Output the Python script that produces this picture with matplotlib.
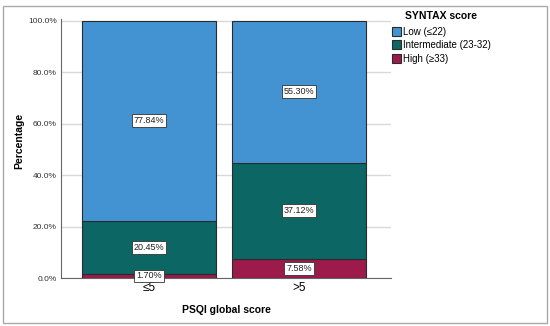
import matplotlib

matplotlib.use("Agg")
import matplotlib.pyplot as plt
from matplotlib.patches import Patch, Rectangle

plt.rcParams["font.family"] = ["Liberation Sans", "DejaVu Sans"]

# data
groups = ["\u22645", ">5"]
low = [77.84, 55.30]
intermediate = [20.45, 37.12]
high = [1.70, 7.58]
series_names = ["Low (\u226422)", "Intermediate (23-32)", "High (\u226533)"]
y_ticks = [0, 20, 40, 60, 80, 100]

COLORS = ["#4393d3", "#0b6664", "#9c1b4b"]

fig = plt.figure(figsize=(5.5, 3.26), dpi=100)
ax = fig.add_axes([0.111, 0.147, 0.6, 0.794])

x = range(len(groups))
width = 0.893
bottoms = [0.0] * len(groups)
for vals, color in zip([high, intermediate, low], [COLORS[2], COLORS[1], COLORS[0]]):
    ax.bar(x, vals, width=width, bottom=bottoms, color=color,
           edgecolor="#2b2b2b", linewidth=0.8, zorder=3)
    for xi, v, b in zip(x, vals, bottoms):
        ax.text(xi, b + v / 2, f"{v:.2f}%", ha="center", va="center", fontsize=6.5,
                color="#222222", zorder=5,
                bbox=dict(boxstyle="square,pad=0.2", fc="white", ec="#333333", lw=0.6))
    bottoms = [b + v for b, v in zip(bottoms, vals)]

ax.set_xlim(-0.587, 1.613)
ax.set_ylim(0, 100.5)
ax.set_yticks(y_ticks)
ax.set_yticklabels([f"{t:.1f}%" for t in y_ticks], fontsize=6, color="#333333")
ax.set_xticks(list(x))
ax.set_xticklabels(groups, fontsize=8.5)
ax.tick_params(axis="both", length=0, pad=3)
ax.yaxis.grid(True, color="#d9d9d9", linewidth=1.0, zorder=0)
for side in ["top", "right"]:
    ax.spines[side].set_visible(False)
for side in ["left", "bottom"]:
    ax.spines[side].set_color("#666666")
    ax.spines[side].set_linewidth(0.8)

ax.set_ylabel("Percentage", fontsize=7.5, fontweight="bold")
ax.yaxis.set_label_coords(-0.112, 0.53)
ax.set_xlabel("PSQI global score", fontsize=7.5, fontweight="bold", labelpad=8)

# legend title drawn separately so the gap to the entries matches
fig.text(0.802, 0.951, "SYNTAX score", ha="center", va="center", fontsize=7.5, fontweight="bold")
handles = [Patch(facecolor=c, edgecolor="#2b2b2b", linewidth=0.8) for c in COLORS]
leg = fig.legend(handles, series_names, loc="upper left", bbox_to_anchor=(0.712, 0.918),
                 fontsize=7, frameon=False, handlelength=1.0, handleheight=1.1,
                 handletextpad=0.15, labelspacing=0.35, borderaxespad=0, borderpad=0)

fig.patches.append(Rectangle((0.006, 0.01), 0.988, 0.972, transform=fig.transFigure,
                             fill=False, edgecolor="#aaaaaa", linewidth=1.0))

plt.savefig("out.png", dpi=100)
